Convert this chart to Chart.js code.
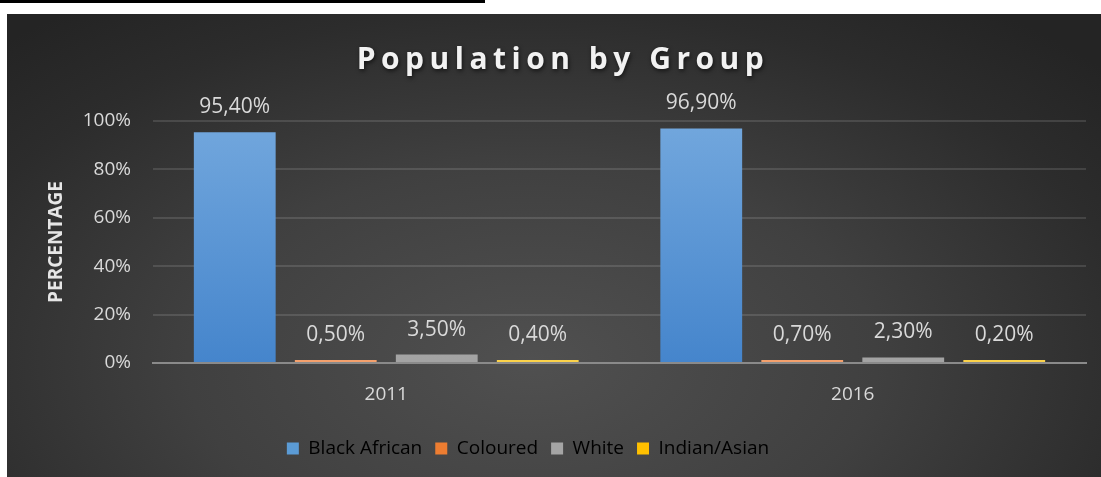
<!DOCTYPE html>
<html>
<head>
<meta charset="utf-8">
<script src="https://cdn.jsdelivr.net/npm/chart.js@4"></script>
<style>
  html, body { margin: 0; padding: 0; background: #fff; width: 1101px; height: 477px; overflow: hidden; }
  #topline { position: absolute; left: 0; top: 0; width: 485px; height: 3px; background: #000; }
  #panel {
    position: absolute; left: 7px; top: 14px; width: 1094px; height: 463px;
    background: radial-gradient(ellipse 70% 95% at 48% 75%, #505050 0%, #404040 45%, #2c2c2c 80%, #242424 100%);
  }
  #myChartCanvas { display: block; }
</style>
</head>
<body>
<div id="topline"></div>
<div id="panel"><canvas id="myChartCanvas" width="1094" height="463"></canvas></div>
<script>
const years = ['2011', '2016'];
const groups = ['Black African', 'Coloured', 'White', 'Indian/Asian'];
const blackAfrican = [95.4, 96.9];
const coloured = [0.5, 0.7];
const white = [3.5, 2.3];
const indianAsian = [0.4, 0.2];
const yTicks = [0, 20, 40, 60, 80, 100];

const palette = [
  ['#72a7dd', '#4585cc'],
  ['#f7a878', '#f4a06c'],
  ['#b4b4b4', '#a3a3a3'],
  ['#ffd54f', '#fbd24a']
];
const legendColors = ['#5b9bd5', '#ed7d31', '#a5a5a5', '#ffc000'];

function grad(i) {
  return (ctx) => {
    const area = ctx.chart.chartArea;
    if (!area) return palette[i][1];
    const g = ctx.chart.ctx.createLinearGradient(0, area.top, 0, area.bottom);
    g.addColorStop(0, palette[i][0]);
    g.addColorStop(1, palette[i][1]);
    return g;
  };
}

const fmt = (v) => v.toFixed(2).replace('.', ',') + '%';

// title with letter spacing + shadow
const titlePlugin = {
  id: 'bigTitle',
  afterDraw(chart) {
    const c = chart.ctx;
    c.save();
    c.font = 'bold 30px "Open Sans"';
    c.letterSpacing = '5.5px';
    c.fillStyle = '#f2f2f2';
    c.textAlign = 'center';
    c.textBaseline = 'alphabetic';
    c.shadowColor = 'rgba(0,0,0,0.6)';
    c.shadowBlur = 4;
    c.shadowOffsetX = 1;
    c.shadowOffsetY = 2;
    c.fillText('Population by Group', chart.width / 2 + 9, 55);
    c.restore();
  }
};

// value labels above bars
const valueLabels = {
  id: 'valueLabels',
  afterDatasetsDraw(chart) {
    const c = chart.ctx;
    c.save();
    c.font = '21px "Open Sans"';
    c.fillStyle = '#d9d9d9';
    c.textAlign = 'center';
    c.textBaseline = 'middle';
    chart.data.datasets.forEach((ds, i) => {
      chart.getDatasetMeta(i).data.forEach((bar, j) => {
        c.fillText(fmt(ds.data[j]), bar.x, bar.y - 25);
      });
    });
    c.restore();
  }
};

// legend in the reference sits a bit left of centre
const legendShift = {
  id: 'legendShift',
  afterLayout(chart) {
    if (chart.legend) chart.legend.right -= 37;
  }
};

const seriesValues = [blackAfrican, coloured, white, indianAsian];

const data = {
  labels: years,
  datasets: groups.map((g, i) => ({
    label: g,
    data: seriesValues[i],
    backgroundColor: grad(i),
    borderWidth: 0,
    minBarLength: 3,
    barPercentage: 0.81,
    categoryPercentage: 0.866
  }))
};

const config = {
  type: 'bar',
  data: data,
  options: {
    responsive: false,
    animation: false,
    layout: { padding: { top: 107, right: 15, left: 0, bottom: 9 } },
    scales: {
      x: {
        grid: { display: false, drawTicks: false },
        border: { color: '#8a8a8a', width: 2 },
        ticks: { color: '#d9d9d9', font: { family: 'Open Sans', size: 19 }, padding: 20 },
        afterFit(scale) { scale.height = 63; }
      },
      y: {
        min: 0,
        max: 100,
        afterBuildTicks(scale) { scale.ticks = yTicks.map(v => ({ value: v })); },
        grid: { color: 'rgba(255,255,255,0.12)', lineWidth: 2, drawTicks: false },
        border: { display: false },
        ticks: {
          color: '#d9d9d9',
          font: { family: 'Open Sans', size: 19 },
          padding: 22,
          callback: (v) => v + '%'
        },
        title: {
          display: true,
          text: 'PERCENTAGE',
          color: '#e6e6e6',
          font: { family: 'Open Sans', size: 19, weight: 'bold' },
          padding: { top: 38 }
        },
        afterFit(scale) { scale.width = 146; }
      }
    },
    plugins: {
      legend: {
        position: 'bottom',
        labels: {
          color: '#d9d9d9',
          font: { family: 'Open Sans', size: 19 },
          boxWidth: 12,
          boxHeight: 12,
          padding: 13,
          generateLabels(chart) {
            return chart.data.datasets.map((ds, i) => ({
              text: ds.label,
              fillStyle: legendColors[i],
              strokeStyle: legendColors[i],
              lineWidth: 0,
              datasetIndex: i,
              hidden: false
            }));
          }
        }
      },
      tooltip: { enabled: false }
    }
  },
  plugins: [titlePlugin, valueLabels, legendShift]
};

const canvasEl = document.getElementById('myChartCanvas');
const populationChart = new Chart(canvasEl, config);
</script>
</body>
</html>
